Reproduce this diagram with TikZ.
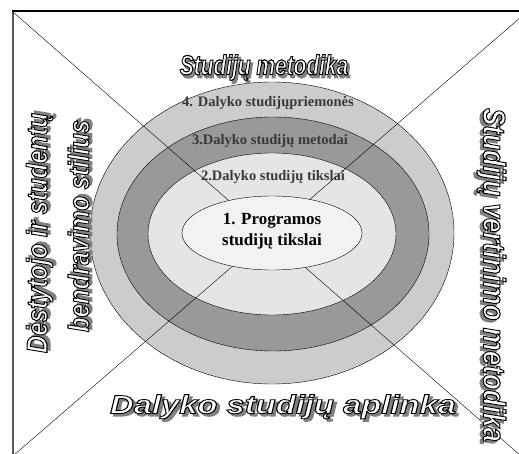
\documentclass[tikz,border=0pt]{standalone}
\usepackage{fontspec}
\setmainfont{Liberation Serif}
\newfontfamily\artfont{Liberation Sans}
\definecolor{ringfour}{gray}{0.80}
\definecolor{ringthree}{gray}{0.60}
\definecolor{ringtwo}{gray}{0.90}
\definecolor{ringone}{gray}{0.95}
\definecolor{shadowgray}{gray}{0.50}
\definecolor{labelgray}{gray}{0.22}
% outlined word with a drop shadow
\newcommand{\strokedtext}[2]{\special{pdf:literal direct 2 Tr #1 w}#2\special{pdf:literal direct 0 Tr}}
\newcommand{\artword}[1]{\rlap{\hspace{2.4pt}\raisebox{-2.4pt}{\color{shadowgray}\strokedtext{1.2}{#1}}}{\color{white}\special{pdf:literal direct 0 G}\strokedtext{0.9}{#1}}}
\newcommand{\artfnt}[1]{\artfont\bfseries\itshape\fontsize{#1}{#1}\selectfont}
\begin{document}
\begin{tikzpicture}[x=1pt,y=-1pt,
    ringlabel/.style={font=\bfseries\fontsize{14.5}{16}\selectfont,text=labelgray,inner sep=0pt},
    corelabel/.style={font=\bfseries\fontsize{17}{21}\selectfont,align=center,inner sep=0pt}]
  \useasboundingbox (0,0) rectangle (519,454);
  \coordinate (tl) at (13,12);
  \coordinate (tr) at (521,17);
  \coordinate (bl) at (14,455);
  \coordinate (br) at (521,456);
  \coordinate (c) at (272,233);
  % frame
  \draw[line width=2.2,gray!70!black] (13,11) -- (13,454);
  \draw[line width=1.2] (12,11) -- (519,11);
  % rings
  \draw[fill=ringfour] (c) ellipse [x radius=182pt,y radius=151pt];
  \draw[fill=ringthree] (273,234) ellipse [x radius=156pt,y radius=117pt];
  \draw[fill=ringtwo] (272,234) ellipse [x radius=124pt,y radius=81pt];
  % diagonals
  \draw (tl) -- (br);
  \draw (tr) -- (bl);
  \draw[fill=ringone] (c) ellipse [x radius=90pt,y radius=37pt];
  % ring texts
  \node[ringlabel] (labfour) at (268,103) {4. Dalyko studijųpriemonės};
  \node[ringlabel] (labthree) at (270,141) {3.Dalyko studijų metodai};
  \node[ringlabel] (labtwo) at (273,177) {2.Dalyko studijų tikslai};
  \node[corelabel] (labone) at (272,231) {1. Programos\\studijų tikslai};
  % outer titles
  \node (topart) at (264,69) {\scalebox{0.95}[1.25]{\artfnt{22}\artword{Studijų metodika}}};
  \node (bottomart) at (283,408) {\scalebox{1.26}[1.0]{\artfnt{26}\artword{Dalyko studijų aplinka}}};
  \node[rotate=90] (leftart) at (41,233) {\scalebox{1.0}[1.2]{\artfnt{24}\artword{Dėstytojo ir studentų}}};
  \node[rotate=90] (leftartb) at (80,226) {\scalebox{1.0}[1.2]{\artfnt{24}\artword{bendravimo stilius}}};
  \node[rotate=-90] (rightart) at (490,275) {\scalebox{1.0}[1.2]{\artfnt{26}\artword{Studijų vertinimo metodika}}};
\end{tikzpicture}
\end{document}
